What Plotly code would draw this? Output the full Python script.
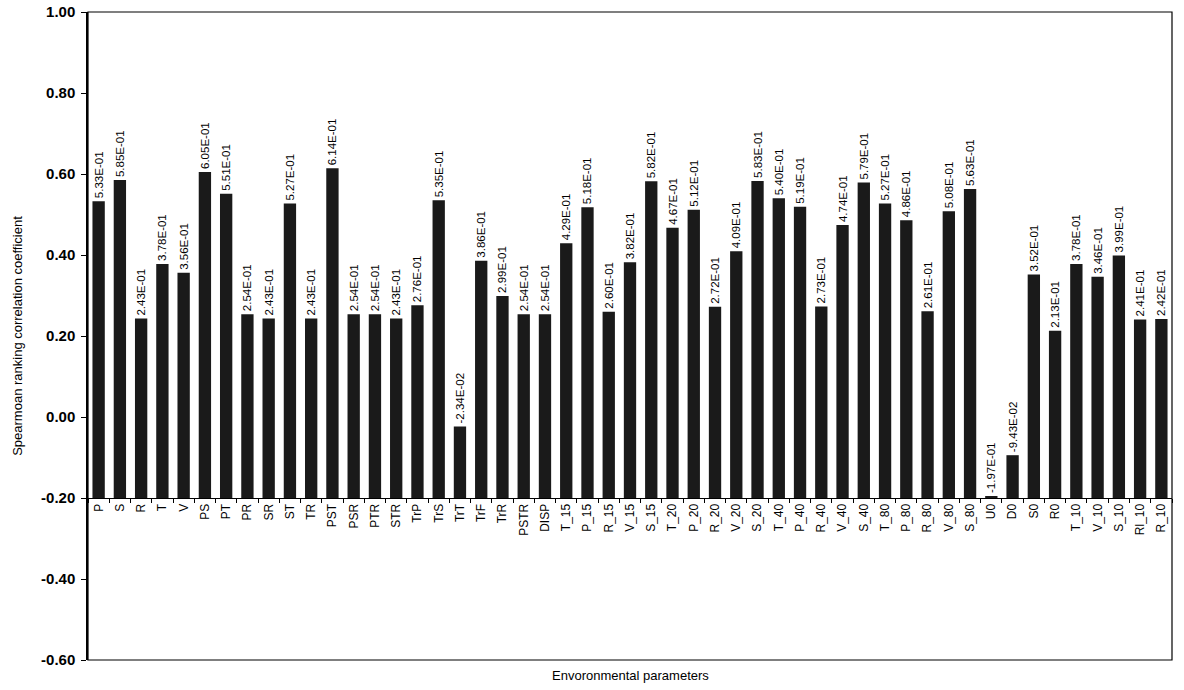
import plotly.graph_objects as go

categories = ["P", "S", "R", "T", "V", "PS", "PT", "PR", "SR", "ST", "TR", "PST", "PSR", "PTR",
              "STR", "TrP", "TrS", "TrT", "TrF", "TrR", "PSTR", "DISP", "T_15", "P_15", "R_15",
              "V_15", "S_15", "T_20", "P_20", "R_20", "V_20", "S_20", "T_40", "P_40", "R_40",
              "V_40", "S_40", "T_80", "P_80", "R_80", "V_80", "S_80", "U0", "D0", "S0", "R0",
              "T_10", "V_10", "S_10", "Rl_10", "R_10"]
values = [0.533, 0.585, 0.243, 0.378, 0.356, 0.605, 0.551, 0.254, 0.243, 0.527, 0.243, 0.614,
          0.254, 0.254, 0.243, 0.276, 0.535, -0.0234, 0.386, 0.299, 0.254, 0.254, 0.429, 0.518,
          0.260, 0.382, 0.582, 0.467, 0.512, 0.272, 0.409, 0.583, 0.540, 0.519, 0.273, 0.474,
          0.579, 0.527, 0.486, 0.261, 0.508, 0.563, -0.197, -0.0943, 0.352, 0.213, 0.378, 0.346,
          0.399, 0.241, 0.242]
baseline = -0.2
ytick_vals = [-0.6, -0.4, -0.2, 0.0, 0.2, 0.4, 0.6, 0.8, 1.0]
ytick_text = ["-0.60", "-0.40", "-0.20", "0.00", "0.20", "0.40", "0.60", "0.80", "1.00"]
y_title = "Spearmoan ranking correlation coefficient"
x_title = "Envoronmental parameters"

FONT = "Liberation Sans, Arial, sans-serif"
labels = ["{:.2E}".format(v) for v in values]

fig = go.Figure(go.Bar(
    x=categories,
    y=[v - baseline for v in values],
    base=baseline,
    marker=dict(color="#1a1a1a", line=dict(width=0)),
    text=labels,
    textposition="outside",
    textangle=-90,
    textfont=dict(family=FONT, size=11.5, color="black"),
    cliponaxis=False,
))

fig.update_layout(
    width=1184, height=690,
    margin=dict(l=88, r=12, t=12, b=30),
    paper_bgcolor="white", plot_bgcolor="white",
    bargap=0.42,
    showlegend=False,
    font=dict(family=FONT, color="black"),
    uniformtext=dict(mode="show", minsize=11.5),
    xaxis=dict(
        type="category",
        anchor="free", position=(baseline + 0.6) / 1.6,
        automargin=False,
        showline=True, linecolor="black", linewidth=1,
        ticks="outside", tickson="boundaries", ticklen=4, tickcolor="black",
        tickangle=-90, tickfont=dict(family=FONT, size=12, color="black"),
        showgrid=False, zeroline=False,
        range=[-0.5, len(categories) - 0.5],
    ),
    yaxis=dict(
        range=[-0.6, 1.0],
        automargin=False,
        ticklabeloverflow="allow",
        tickvals=ytick_vals, ticktext=ytick_text,
        tickfont=dict(family=FONT, size=15, color="black", weight="bold"),
        ticks="outside", ticklen=5, tickcolor="black",
        ticklabelstandoff=3,
        showline=True, linecolor="black", linewidth=1.5,
        showgrid=False, zeroline=False,
        title=dict(text=y_title, font=dict(family=FONT, size=13, color="black"), standoff=15),
    ),
    shapes=[dict(type="rect", xref="paper", yref="paper", x0=0, x1=1, y0=0, y1=1,
                 line=dict(color="black", width=1.2), fillcolor="rgba(0,0,0,0)", layer="above")],
    annotations=[dict(text=x_title, xref="paper", yref="paper", x=0.5, y=0, yshift=-15,
                      showarrow=False, font=dict(family=FONT, size=13, color="black"),
                      yanchor="middle")],
)

fig.write_html("out.html", config={"displayModeBar": False},
               post_script="document.body.style.margin='0';")
